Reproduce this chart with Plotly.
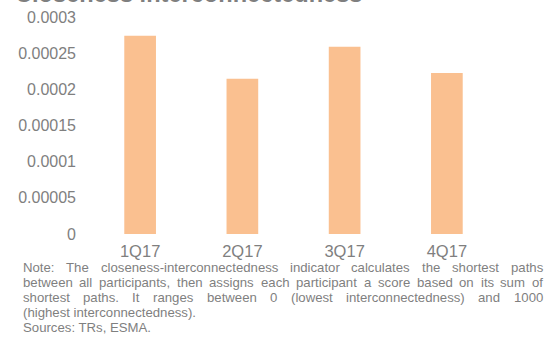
import plotly.graph_objects as go

categories = ["1Q17", "2Q17", "3Q17", "4Q17"]
values = [0.000274, 0.0002145, 0.000259, 0.0002225]
y_ticks = [0, 0.00005, 0.0001, 0.00015, 0.0002, 0.00025, 0.0003]
y_tick_labels = ["0", "0.00005", "0.0001", "0.00015", "0.0002", "0.00025", "0.0003"]

title_text = "Closeness interconnectedness"
note_lines = [
    "Note: The closeness-interconnectedness indicator calculates the shortest paths",
    "between all participants, then assigns each participant a score based on its sum of",
    "shortest paths. It ranges between 0 (lowest interconnectedness) and 1000",
    "(highest interconnectedness).",
    "Sources: TRs, ESMA.",
]
justified = [True, True, True, False, False]

FONT = "Liberation Sans, Arial, sans-serif"
GREY = "#7f7f7f"

W, H = 549, 338
L, R, T, B = 89, 51, 17, 104
PW, PH = W - L - R, H - T - B

# Arial / Liberation Sans advance widths (per 1000 em)
AW = {" ": 278, "(": 333, ")": 333, ",": 278, "-": 333, ".": 278, ":": 278}
for ch in "0123456789":
    AW[ch] = 556
AW.update(dict(A=667, B=667, C=722, D=722, E=667, F=611, G=778, H=722, I=278, J=500,
               K=667, L=556, M=833, N=722, O=778, P=667, Q=778, R=722, S=667, T=611,
               U=722, V=667, W=944, X=667, Y=667, Z=611,
               a=556, b=556, c=500, d=556, e=556, f=278, g=556, h=556, i=222, j=222,
               k=500, l=222, m=833, n=556, o=556, p=556, q=556, r=333, s=500, t=278,
               u=556, v=500, w=722, x=500, y=500, z=500))


def tw(s, size):
    return sum(AW.get(c, 556) for c in s) * size / 1000.0


def px_to_paper_x(px):
    return (px - L) / PW


def px_to_paper_y(py):
    return (H - B - py) / PH


fig = go.Figure()
fig.add_trace(go.Bar(x=categories, y=values,
                     marker=dict(color="#FAC090", line=dict(width=0)), width=0.31))

fig.update_layout(
    width=W, height=H,
    margin=dict(l=L, r=R, t=T, b=B, autoexpand=False),
    paper_bgcolor="white", plot_bgcolor="white",
    showlegend=False,
    font=dict(family=FONT, color=GREY),
    xaxis=dict(showgrid=False, showline=False, zeroline=False, automargin=False,
               ticklabelstandoff=5,
               tickfont=dict(size=16.5, color=GREY, family=FONT)),
    yaxis=dict(range=[0, 0.0003], tickvals=y_ticks, ticktext=y_tick_labels,
               showgrid=False, showline=False, zeroline=False, automargin=False,
               ticklabelstandoff=12,
               tickfont=dict(size=16, color=GREY, family=FONT)),
)

annotations = [
    dict(text="<b>" + title_text + "</b>", xref="paper", yref="paper",
         x=px_to_paper_x(13), y=px_to_paper_y(8.8), xanchor="left", yanchor="bottom",
         showarrow=False, font=dict(size=23.6, color=GREY, family=FONT)),
]

NOTE_SIZE = 13.2
left_px, right_px = 22.7, 543.0
for i, line in enumerate(note_lines):
    py = 267.3 + i * 15.1
    if justified[i]:
        words = line.split(" ")
        widths = [tw(w_, NOTE_SIZE) for w_ in words]
        gap = (right_px - left_px - sum(widths)) / (len(words) - 1)
        x = left_px
        for w_, wd in zip(words, widths):
            annotations.append(dict(
                text=w_, xref="paper", yref="paper",
                x=px_to_paper_x(x - 2), y=px_to_paper_y(py),
                xanchor="left", yanchor="middle", showarrow=False,
                font=dict(size=NOTE_SIZE, color=GREY, family=FONT)))
            x += wd + gap
    else:
        annotations.append(dict(
            text=line, xref="paper", yref="paper",
            x=px_to_paper_x(left_px - 2), y=px_to_paper_y(py),
            xanchor="left", yanchor="middle", showarrow=False,
            font=dict(size=NOTE_SIZE, color=GREY, family=FONT)))

fig.update_layout(annotations=annotations)

fig.write_html("out.html", config={"displayModeBar": False},
               post_script="document.body.style.margin='0';")
